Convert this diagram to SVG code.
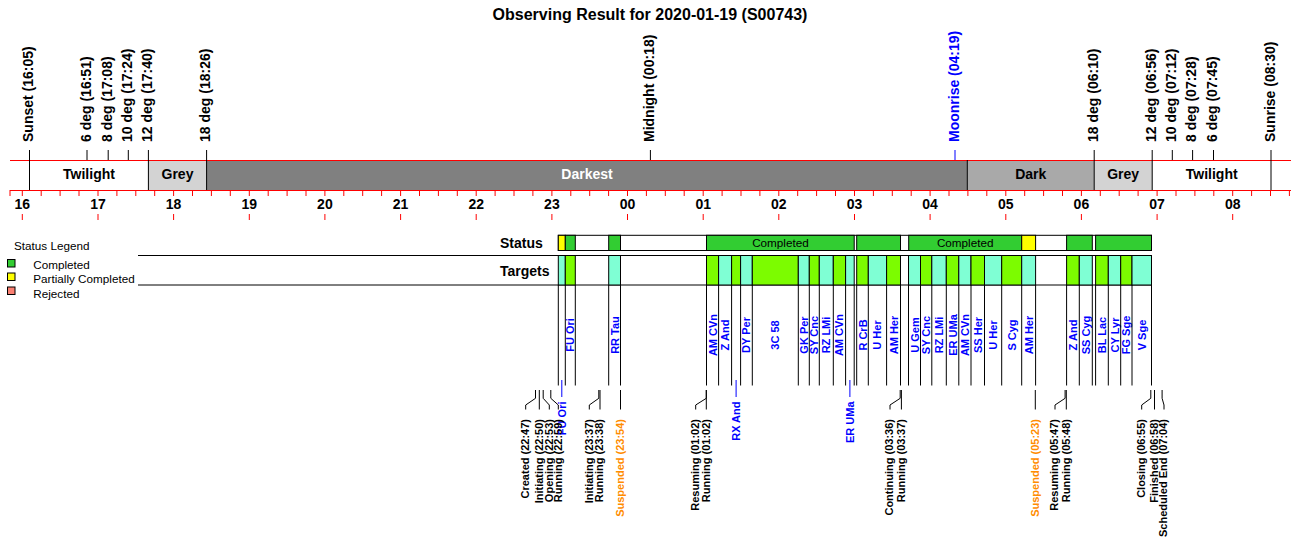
<svg xmlns="http://www.w3.org/2000/svg" width="1300" height="560" viewBox="0 0 1300 560">
<style>
text{font-family:"Liberation Sans",Arial,sans-serif;fill:#000}
.title{font-size:16px;font-weight:bold;text-anchor:middle}
.top{font-size:14px;font-weight:bold}
.hr{font-size:14px;font-weight:bold;text-anchor:middle}
.bar{font-size:14px;font-weight:bold;text-anchor:middle}
.row{font-size:14px;font-weight:bold}
.leg{font-size:11.7px}
.st{font-size:11.7px;text-anchor:middle}
.tg{font-size:11px;font-weight:bold;fill:#0000FF;text-anchor:middle}
.tl{font-size:11px;font-weight:bold;fill:#0000FF;text-anchor:end}
.ev{font-size:11px;font-weight:bold;text-anchor:end}
.or{fill:#FF8C00}
.blue{fill:#0000FF}
.k{stroke:#000;stroke-width:1;fill:none}
.kb{stroke:#0000FF;stroke-width:1;fill:none}
.r{stroke:#FF0000;stroke-width:1;fill:none}
.lime{fill:#7CFC00;stroke:#000;stroke-width:1}
.aqua{fill:#7FFFD4;stroke:#000;stroke-width:1}
.grn{fill:#32CD32;stroke:#000;stroke-width:1}
.yel{fill:#FFFF00;stroke:#000;stroke-width:1}
.sal{fill:#FA8072;stroke:#000;stroke-width:1}
</style>
<rect width="1300" height="560" fill="#fff"/>
<text class="title" x="650" y="20">Observing Result for 2020-01-19 (S00743)</text>

<g id="timeline">
<rect x="148.4" y="160" width="58.2" height="30" fill="#D3D3D3"/>
<rect x="206.6" y="160" width="760.7" height="30" fill="#808080"/>
<rect x="967.3" y="160" width="126.9" height="30" fill="#A9A9A9"/>
<rect x="1094.2" y="160" width="58" height="30" fill="#D3D3D3"/>
<path class="r" d="M10 160.5H1291M10 190.5H1291"/>
<path class="r" d="M10 190v6M22.3 190v6M41.2 190v6M60.1 190v6M79 190v6M98 190v6M116.9 190v6M135.8 190v6M154.7 190v6M173.6 190v6M192.5 190v6M211.4 190v6M230.3 190v6M249.3 190v6M268.2 190v6M287.1 190v6M306 190v6M324.9 190v6M343.8 190v6M362.7 190v6M381.6 190v6M400.6 190v6M419.5 190v6M438.4 190v6M457.3 190v6M476.2 190v6M495.1 190v6M514 190v6M532.9 190v6M551.9 190v6M570.8 190v6M589.7 190v6M608.6 190v6M627.5 190v6M646.4 190v6M665.3 190v6M684.2 190v6M703.2 190v6M722.1 190v6M741 190v6M759.9 190v6M778.8 190v6M797.7 190v6M816.6 190v6M835.5 190v6M854.5 190v6M873.4 190v6M892.3 190v6M911.2 190v6M930.1 190v6M949 190v6M967.9 190v6M986.8 190v6M1005.8 190v6M1024.7 190v6M1043.6 190v6M1062.5 190v6M1081.4 190v6M1100.3 190v6M1119.2 190v6M1138.1 190v6M1157.1 190v6M1176 190v6M1194.9 190v6M1213.8 190v6M1232.7 190v6M1251.6 190v6M1270.5 190v6M1289.4 190v6"/>
<path class="r" d="M22.3 214v6M98 214v6M173.6 214v6M249.3 214v6M324.9 214v6M400.6 214v6M476.2 214v6M551.9 214v6M627.5 214v6M703.2 214v6M778.8 214v6M854.5 214v6M930.1 214v6M1005.8 214v6M1081.4 214v6M1157.1 214v6M1232.7 214v6"/>
<path class="k" d="M29.5 150V190M148.4 150V190M206.6 150V190M967.3 160V190M1094.2 150V190M1152.2 150V190M1271 150V190M87 150V160M108.2 150V160M128.3 150V160M650.4 150V160M1172.3 150V160M1192.6 150V160M1213.5 150V160"/>
<path class="kb" d="M955 150V160"/>
<text class="bar" x="89" y="179">Twilight</text>
<text class="bar" x="177.5" y="179">Grey</text>
<text class="bar" x="587" y="179" style="fill:#fff">Darkest</text>
<text class="bar" x="1030.7" y="179">Dark</text>
<text class="bar" x="1123.2" y="179">Grey</text>
<text class="bar" x="1211.7" y="179">Twilight</text>
<text class="hr" x="22.3" y="209">16</text>
<text class="hr" x="98" y="209">17</text>
<text class="hr" x="173.6" y="209">18</text>
<text class="hr" x="249.3" y="209">19</text>
<text class="hr" x="324.9" y="209">20</text>
<text class="hr" x="400.6" y="209">21</text>
<text class="hr" x="476.2" y="209">22</text>
<text class="hr" x="551.9" y="209">23</text>
<text class="hr" x="627.5" y="209">00</text>
<text class="hr" x="703.2" y="209">01</text>
<text class="hr" x="778.8" y="209">02</text>
<text class="hr" x="854.5" y="209">03</text>
<text class="hr" x="930.1" y="209">04</text>
<text class="hr" x="1005.8" y="209">05</text>
<text class="hr" x="1081.4" y="209">06</text>
<text class="hr" x="1157.1" y="209">07</text>
<text class="hr" x="1232.7" y="209">08</text>
<text class="top" transform="translate(33,142) rotate(-90)">Sunset (16:05)</text>
<text class="top" transform="translate(90.5,142) rotate(-90)">6 deg (16:51)</text>
<text class="top" transform="translate(111.7,142) rotate(-90)">8 deg (17:08)</text>
<text class="top" transform="translate(131.8,142) rotate(-90)">10 deg (17:24)</text>
<text class="top" transform="translate(151.9,142) rotate(-90)">12 deg (17:40)</text>
<text class="top" transform="translate(210.1,142) rotate(-90)">18 deg (18:26)</text>
<text class="top" transform="translate(653.9,142) rotate(-90)">Midnight (00:18)</text>
<text class="top blue" transform="translate(958.5,142) rotate(-90)">Moonrise (04:19)</text>
<text class="top" transform="translate(1097.7,142) rotate(-90)">18 deg (06:10)</text>
<text class="top" transform="translate(1155.7,142) rotate(-90)">12 deg (06:56)</text>
<text class="top" transform="translate(1175.8,142) rotate(-90)">10 deg (07:12)</text>
<text class="top" transform="translate(1196.1,142) rotate(-90)">8 deg (07:28)</text>
<text class="top" transform="translate(1217,142) rotate(-90)">6 deg (07:45)</text>
<text class="top" transform="translate(1274.5,142) rotate(-90)">Sunrise (08:30)</text>
</g>

<g id="legend">
<text class="leg" x="14" y="250">Status Legend</text>
<rect class="grn" x="7.5" y="259.5" width="7.5" height="7.5"/>
<text class="leg" x="33.3" y="268.5">Completed</text>
<rect class="yel" x="7.5" y="273" width="7.5" height="7.5"/>
<text class="leg" x="33.3" y="283">Partially Completed</text>
<rect class="sal" x="7.5" y="287" width="7.5" height="7.5"/>
<text class="leg" x="33.3" y="297.5">Rejected</text>
</g>

<g id="status">
<text class="row" x="500" y="248">Status</text>
<rect x="558.3" y="235.3" width="593.2" height="15.2" fill="#fff" stroke="#000"/>
<rect class="yel" x="558.3" y="235.3" width="7" height="15.2"/>
<rect class="grn" x="565.3" y="235.3" width="10" height="15.2"/>
<rect class="grn" x="608.7" y="235.3" width="11.8" height="15.2"/>
<rect class="grn" x="706.5" y="235.3" width="147.7" height="15.2"/>
<rect class="grn" x="856.7" y="235.3" width="43.8" height="15.2"/>
<rect class="grn" x="908.7" y="235.3" width="113" height="15.2"/>
<rect class="yel" x="1021.7" y="235.3" width="13.9" height="15.2"/>
<rect class="grn" x="1066.6" y="235.3" width="25.7" height="15.2"/>
<rect class="grn" x="1095.6" y="235.3" width="55.9" height="15.2"/>
<text class="st" x="780.4" y="246.8">Completed</text>
<text class="st" x="965.2" y="246.8">Completed</text>
</g>

<g id="targets">
<text class="row" x="500" y="276">Targets</text>
<path class="k" d="M138 255.5H1151.5M138 285H1151.5"/>
<g id="t01"><rect class="aqua" x="558.3" y="255.5" width="7" height="29.5"/><text class="tl" transform="translate(565.8,401.5) rotate(-90)">FU Ori</text></g>
<g id="t02"><rect class="lime" x="565.3" y="255.5" width="10" height="29.5"/><text class="tg" transform="translate(574.3,335) rotate(-90)">FU Ori</text></g>
<g id="t03"><rect class="aqua" x="608.7" y="255.5" width="11.8" height="29.5"/><text class="tg" transform="translate(618.6,335) rotate(-90)">RR Tau</text></g>
<g id="t04"><rect class="lime" x="706.5" y="255.5" width="12.1" height="29.5"/><text class="tg" transform="translate(716.5,335) rotate(-90)">AM CVn</text></g>
<g id="t05"><rect class="aqua" x="718.6" y="255.5" width="13" height="29.5"/><text class="tg" transform="translate(729.1,335) rotate(-90)">Z And</text></g>
<g id="t06"><rect class="lime" x="731.6" y="255.5" width="9" height="29.5"/><text class="tl" transform="translate(740.1,401.5) rotate(-90)">RX And</text></g>
<g id="t07"><rect class="aqua" x="740.6" y="255.5" width="11.7" height="29.5"/><text class="tg" transform="translate(750.4,335) rotate(-90)">DY Per</text></g>
<g id="t08"><rect class="lime" x="752.3" y="255.5" width="46" height="29.5"/><text class="tg" transform="translate(779.3,335) rotate(-90)">3C 58</text></g>
<g id="t09"><rect class="aqua" x="798.3" y="255.5" width="11" height="29.5"/><text class="tg" transform="translate(807.8,335) rotate(-90)">GK Per</text></g>
<g id="t10"><rect class="lime" x="809.3" y="255.5" width="10" height="29.5"/><text class="tg" transform="translate(818.3,335) rotate(-90)">SY Cnc</text></g>
<g id="t11"><rect class="aqua" x="819.3" y="255.5" width="14" height="29.5"/><text class="tg" transform="translate(830.3,335) rotate(-90)">RZ LMi</text></g>
<g id="t12"><rect class="lime" x="833.3" y="255.5" width="12.3" height="29.5"/><text class="tg" transform="translate(843.4,335) rotate(-90)">AM CVn</text></g>
<g id="t13"><rect class="aqua" x="845.6" y="255.5" width="8.6" height="29.5"/><text class="tl" transform="translate(853.9,401.5) rotate(-90)">ER UMa</text></g>
<g id="t14"><rect class="lime" x="856.7" y="255.5" width="11.6" height="29.5"/><text class="tg" transform="translate(866.5,335) rotate(-90)">R CrB</text></g>
<g id="t15"><rect class="aqua" x="868.3" y="255.5" width="18.3" height="29.5"/><text class="tg" transform="translate(881.4,335) rotate(-90)">U Her</text></g>
<g id="t16"><rect class="lime" x="886.6" y="255.5" width="13.9" height="29.5"/><text class="tg" transform="translate(897.5,335) rotate(-90)">AM Her</text></g>
<g id="t17"><rect class="aqua" x="908.5" y="255.5" width="12" height="29.5"/><text class="tg" transform="translate(918.5,335) rotate(-90)">U Gem</text></g>
<g id="t18"><rect class="lime" x="920.5" y="255.5" width="11.3" height="29.5"/><text class="tg" transform="translate(930.2,335) rotate(-90)">SY Cnc</text></g>
<g id="t19"><rect class="aqua" x="931.8" y="255.5" width="14.5" height="29.5"/><text class="tg" transform="translate(943.1,335) rotate(-90)">RZ LMi</text></g>
<g id="t20"><rect class="lime" x="946.3" y="255.5" width="12.5" height="29.5"/><text class="tg" transform="translate(956.6,335) rotate(-90)">ER UMa</text></g>
<g id="t21"><rect class="aqua" x="958.8" y="255.5" width="12.2" height="29.5"/><text class="tg" transform="translate(968.9,335) rotate(-90)">AM CVn</text></g>
<g id="t22"><rect class="lime" x="971" y="255.5" width="13.5" height="29.5"/><text class="tg" transform="translate(981.8,335) rotate(-90)">SS Her</text></g>
<g id="t23"><rect class="aqua" x="984.5" y="255.5" width="17.2" height="29.5"/><text class="tg" transform="translate(997.1,335) rotate(-90)">U Her</text></g>
<g id="t24"><rect class="lime" x="1001.7" y="255.5" width="20" height="29.5"/><text class="tg" transform="translate(1015.7,335) rotate(-90)">S Cyg</text></g>
<g id="t25"><rect class="aqua" x="1021.7" y="255.5" width="13.9" height="29.5"/><text class="tg" transform="translate(1032.7,335) rotate(-90)">AM Her</text></g>
<g id="t26"><rect class="lime" x="1066.6" y="255.5" width="12.7" height="29.5"/><text class="tg" transform="translate(1077,335) rotate(-90)">Z And</text></g>
<g id="t27"><rect class="aqua" x="1079.3" y="255.5" width="13" height="29.5"/><text class="tg" transform="translate(1089.8,335) rotate(-90)">SS Cyg</text></g>
<g id="t28"><rect class="lime" x="1095.6" y="255.5" width="12.7" height="29.5"/><text class="tg" transform="translate(1106,335) rotate(-90)">BL Lac</text></g>
<g id="t29"><rect class="aqua" x="1108.3" y="255.5" width="12.4" height="29.5"/><text class="tg" transform="translate(1118.5,335) rotate(-90)">CY Lyr</text></g>
<g id="t30"><rect class="lime" x="1120.7" y="255.5" width="11.3" height="29.5"/><text class="tg" transform="translate(1130.4,335) rotate(-90)">FG Sge</text></g>
<g id="t31"><rect class="aqua" x="1132" y="255.5" width="19.5" height="29.5"/><text class="tg" transform="translate(1145.8,335) rotate(-90)">V Sge</text></g>
</g>

<g id="connectors">
<path class="k" d="M558.3 285V385.5M565.3 285V385.5M575.3 285V385.5M608.7 285V385.5M620.5 285V385.5M706.5 285V385.5M718.6 285V385.5M731.6 285V385.5M740.6 285V385.5M752.3 285V385.5M798.3 285V385.5M809.3 285V385.5M819.3 285V385.5M833.3 285V385.5M845.6 285V385.5M854.2 285V385.5M856.7 285V385.5M868.3 285V385.5M886.6 285V385.5M900.5 285V385.5M908.5 285V385.5M920.5 285V385.5M931.8 285V385.5M946.3 285V385.5M958.8 285V385.5M971 285V385.5M984.5 285V385.5M1001.7 285V385.5M1021.7 285V385.5M1035.6 285V385.5M1066.6 285V385.5M1079.3 285V385.5M1092.3 285V385.5M1095.6 285V385.5M1108.3 285V385.5M1120.7 285V385.5M1132 285V385.5M1151.5 285V385.5"/>
<path class="kb" d="M561.8 380V397M736.1 380V397M849.9 380V397"/>
<path class="k" d="M535.5 390V398.3L525.7 405V409.5M539.3 390V409.5M543.2 390V398.3L549.3 405V409.5M550.8 390V398.3L558.3 405V409.5M598.8 390V398.3L589.3 405V409.5M600 390V409.5M620.5 390V409.5M706.3 390V398.3L695.7 405V409.5M706.3 390V409.5M900.2 390V398.3L890 405V409.5M901.4 390V409.5M1035.3 390V409.5M1065.1 390V398.3L1055 405V409.5M1066.3 390V409.5M1150.8 390V398.3L1141.7 405V409.5M1154.5 390V409.5M1162.1 390V398.3L1164 405V409.5"/>
</g>

<g id="events">
<text class="ev" transform="translate(529,419) rotate(-90)">Created (22:47)</text>
<text class="ev" transform="translate(542.6,419) rotate(-90)">Initiating (22:50)</text>
<text class="ev" transform="translate(552.6,419) rotate(-90)">Opening (22:53)</text>
<text class="ev" transform="translate(561.6,419) rotate(-90)">Running (22:59)</text>
<text class="ev" transform="translate(592.6,419) rotate(-90)">Initiating (23:37)</text>
<text class="ev" transform="translate(603.3,419) rotate(-90)">Running (23:38)</text>
<text class="ev or" transform="translate(623.8,419) rotate(-90)">Suspended (23:54)</text>
<text class="ev" transform="translate(699,419) rotate(-90)">Resuming (01:02)</text>
<text class="ev" transform="translate(709.6,419) rotate(-90)">Running (01:02)</text>
<text class="ev" transform="translate(893.3,419) rotate(-90)">Continuing (03:36)</text>
<text class="ev" transform="translate(904.7,419) rotate(-90)">Running (03:37)</text>
<text class="ev or" transform="translate(1038.6,419) rotate(-90)">Suspended (05:23)</text>
<text class="ev" transform="translate(1058.3,419) rotate(-90)">Resuming (05:47)</text>
<text class="ev" transform="translate(1069.6,419) rotate(-90)">Running (05:48)</text>
<text class="ev" transform="translate(1145,419) rotate(-90)">Closing (06:55)</text>
<text class="ev" transform="translate(1157.8,419) rotate(-90)">Finished (06:58)</text>
<text class="ev" transform="translate(1167.3,419) rotate(-90)">Scheduled End (07:04)</text>
</g>
</svg>
